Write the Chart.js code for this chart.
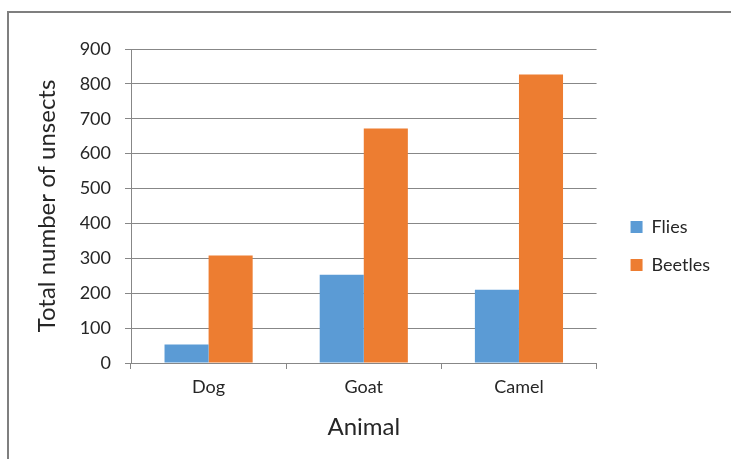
<!DOCTYPE html>
<html>
<head>
<meta charset="utf-8">
<script src="https://cdn.jsdelivr.net/npm/chart.js@4/dist/chart.umd.min.js"></script>
<style>
  body { margin: 0; background: #fff; }
  #wrap { position: relative; width: 731px; height: 459px; overflow: hidden; }
  #marco { position: absolute; left: 7px; top: 11px; width: 760px; height: 480px;
           border-left: 2px solid #7f7f7f; border-top: 2px solid #7f7f7f; }
  canvas { position: absolute; left: 0; top: 0; }
</style>
</head>
<body>
<div id="wrap">
  <div id="marco"></div>
  <canvas id="insectos" width="731" height="459"></canvas>
</div>
<script>
// Datos del grafico
const animales = ['Dog', 'Goat', 'Camel'];
const moscas = [53, 253, 210];
const escarabajos = [308, 672, 827];
const nombresSeries = ['Flies', 'Beetles'];

const fuente = "Lato, 'Open Sans', sans-serif";
const gris = '#878787';
const texto = '#262626';

// mueve la leyenda despues del layout
const empujeLeyenda = {
    id: 'empujeLeyenda',
    afterLayout(chart) {
        const lg = chart.legend;
        lg.left += 14; lg.right += 14;
        lg.top -= 8; lg.bottom -= 8;
    }
};

let graficoInsectos = new Chart(
    document.getElementById('insectos').getContext('2d'), {
    type: 'bar',
    data: {
        labels: animales,
        datasets: [{
            label: nombresSeries[0],
            data: moscas,
            backgroundColor: '#5B9BD5',
            categoryPercentage: 0.568,
            barPercentage: 1.0
        }, {
            label: nombresSeries[1],
            data: escarabajos,
            backgroundColor: '#ED7D31',
            categoryPercentage: 0.568,
            barPercentage: 1.0
        }]
    },
    options: {
        responsive: false,
        animation: false,
        layout: { padding: { left: 8, top: 49, right: 25, bottom: 0 } },
        plugins: {
            tooltip: { enabled: false },
            legend: {
                position: 'right',
                labels: {
                    boxWidth: 12,
                    boxHeight: 12,
                    padding: 20,
                    color: texto,
                    font: { family: fuente, size: 18 }
                }
            }
        },
        scales: {
            x: {
                afterFit: s => { s.height = 96; },
                grid: { offset: true, drawOnChartArea: false, tickLength: 6, color: gris },
                border: { color: gris },
                ticks: { color: texto, padding: 7, font: { family: fuente, size: 18 } },
                title: {
                    display: true, text: 'Animal', color: texto,
                    font: { family: fuente, size: 24 },
                    padding: { top: 0, bottom: 17 }
                }
            },
            y: {
                min: 0,
                max: 900,
                afterFit: s => { s.width = 123; },
                grid: { color: gris, tickLength: 6 },
                border: { color: gris },
                ticks: { stepSize: 100, color: texto, padding: 14, font: { family: fuente, size: 18 } },
                title: {
                    display: true, text: 'Total number of unsects', color: texto,
                    font: { family: fuente, size: 24 },
                    padding: { top: 25, bottom: 0 }
                }
            }
        }
    },
    plugins: [empujeLeyenda]
});
</script>
</body>
</html>
